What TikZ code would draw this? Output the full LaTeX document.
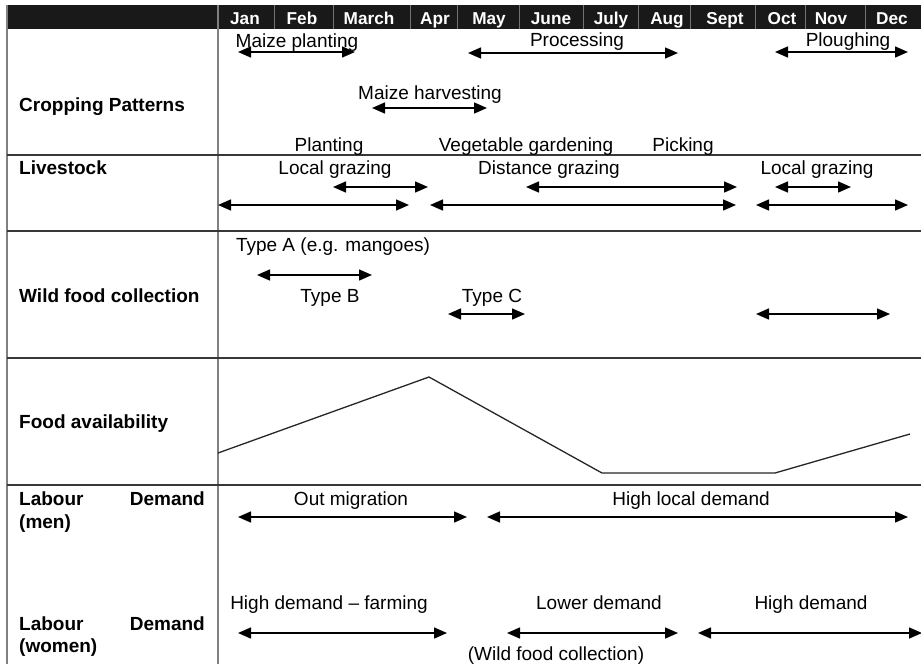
\documentclass[tikz,border=0pt]{standalone}
\usepackage{fontspec}
\setmainfont{Liberation Sans}
\usetikzlibrary{arrows.meta}

% a two-headed span on the calendar: name, left x, right x, y
\newcommand\timespan[4]{%
  \coordinate (#1-l) at (#2,#4);
  \coordinate (#1-r) at (#3,#4);
  \draw[period] (#1-l) -- (#1-r);}

\begin{document}
\begin{tikzpicture}[x=1pt,y=-1pt,
  txt/.style={inner sep=0pt, anchor=base, font=\fontsize{19}{22}\selectfont},
  lbl/.style={inner sep=0pt, anchor=base west, font=\fontsize{19}{22}\selectfont\bfseries},
  lblr/.style={lbl, anchor=base east},
  mon/.style={inner sep=0pt, anchor=base, text=white, font=\fontsize{17.2}{20}\selectfont\bfseries},
  period/.style={line width=1.5pt, {Triangle[length=13pt,width=11pt]}-{Triangle[length=13pt,width=11pt]}},
  rowline/.style={line width=1.3pt, draw=black!78},
  colline/.style={line width=1.5pt, draw=black!50}]

\useasboundingbox (0,0) rectangle (921,664);

% month header
\fill[black!90] (7,5) rectangle (921,29);
\foreach \x in {274,333,410,457,519,583,638,690,755,805,865}
  \draw[black!55, line width=0.8pt] (\x,5) -- (\x,29);
\node[mon] (jan) at (245,24.5) {Jan};
\node[mon] (feb) at (302,24.5) {Feb};
\node[mon] (mar) at (369,24.5) {March};
\node[mon] (apr) at (435,24.5) {Apr};
\node[mon] (may) at (489,24.5) {May};
\node[mon] (jun) at (551,24.5) {June};
\node[mon] (jul) at (611,24.5) {July};
\node[mon] (aug) at (667,24.5) {Aug};
\node[mon] (sep) at (725,24.5) {Sept};
\node[mon] (oct) at (782,24.5) {Oct};
\node[mon] (nov) at (831,24.5) {Nov};
\node[mon] (dec) at (892,24.5) {Dec};

% grid
\draw[colline] (7,5) -- (7,664);
\draw[colline] (218,5) -- (218,664);
\foreach \y in {155,231,358,485}
  \draw[rowline] (7,\y) -- (921,\y);

% row labels
\node[lbl] (crop) at (19,111) {Cropping Patterns};
\node[lbl] (live) at (19,174) {Livestock};
\node[lbl] (wild) at (19,302) {Wild food collection};
\node[lbl] (food) at (19,428) {Food availability};
\node[lbl] (lm1) at (19,505) {Labour};
\node[lblr] (lm2) at (205,505) {Demand};
\node[lbl] (lm3) at (19,528) {(men)};
\node[lbl] (lw1) at (19,630) {Labour};
\node[lblr] (lw2) at (205,630) {Demand};
\node[lbl] (lw3) at (19,652) {(women)};

% cropping patterns
\node[txt] (mplant) at (297,47) {Maize planting};
\timespan{mplanta}{238}{355}{52}
\node[txt] (proc) at (577,46) {Processing};
\timespan{proca}{468}{678}{53}
\node[txt] (plough) at (848,46) {Ploughing};
\timespan{ploughA}{775}{908}{52}
\node[txt] (mharv) at (430,99) {Maize harvesting};
\timespan{mharva}{372}{487}{108}
\node[txt] (plant) at (329,151) {Planting};
\node[txt] (veg) at (526,151) {Vegetable gardening};
\node[txt] (pick) at (683,151) {Picking};

% livestock
\node[txt] (lg1) at (335,174) {Local grazing};
\node[txt] (dg) at (549,174) {Distance grazing};
\node[txt] (lg2) at (817,174) {Local grazing};
\timespan{ls1}{333}{428}{187}
\timespan{ls2}{526}{737}{187}
\timespan{ls3}{775}{851}{187}
\timespan{ls4}{218}{409}{205}
\timespan{ls5}{430}{736}{205}
\timespan{ls6}{756}{908}{205}

% wild food collection
\node[txt] (ta) at (333,251) {Type A (e.g. mangoes)};
\timespan{wfa}{257}{372}{275}
\node[txt] (tb) at (330,302) {Type B};
\node[txt] (tc) at (492,302) {Type C};
\timespan{wfc}{448}{525}{314}
\timespan{wfd}{756}{890}{314}

% food availability curve
\coordinate (fa0) at (218,453);
\coordinate (fa1) at (429,377);
\coordinate (fa2) at (602,473);
\coordinate (fa3) at (775,473);
\coordinate (fa4) at (910,434);
\draw[line width=1.3pt, black!85] (fa0) -- (fa1) -- (fa2) -- (fa3) -- (fa4);

% labour demand (men)
\node[txt] (outm) at (351,505) {Out migration};
\timespan{men1}{238}{467}{517}
\node[txt] (hld) at (691,505) {High local demand};
\timespan{men2}{487}{908}{517}

% labour demand (women)
\node[txt] (hdf) at (329,609) {High demand -- farming};
\timespan{wom1}{238}{447}{633}
\node[txt] (lowd) at (599,609) {Lower demand};
\timespan{wom2}{507}{678}{633}
\node[txt] (hd) at (811,609) {High demand};
\timespan{wom3}{698}{922}{633}
\node[txt] (wfcol) at (556,660) {(Wild food collection)};

\end{tikzpicture}
\end{document}
